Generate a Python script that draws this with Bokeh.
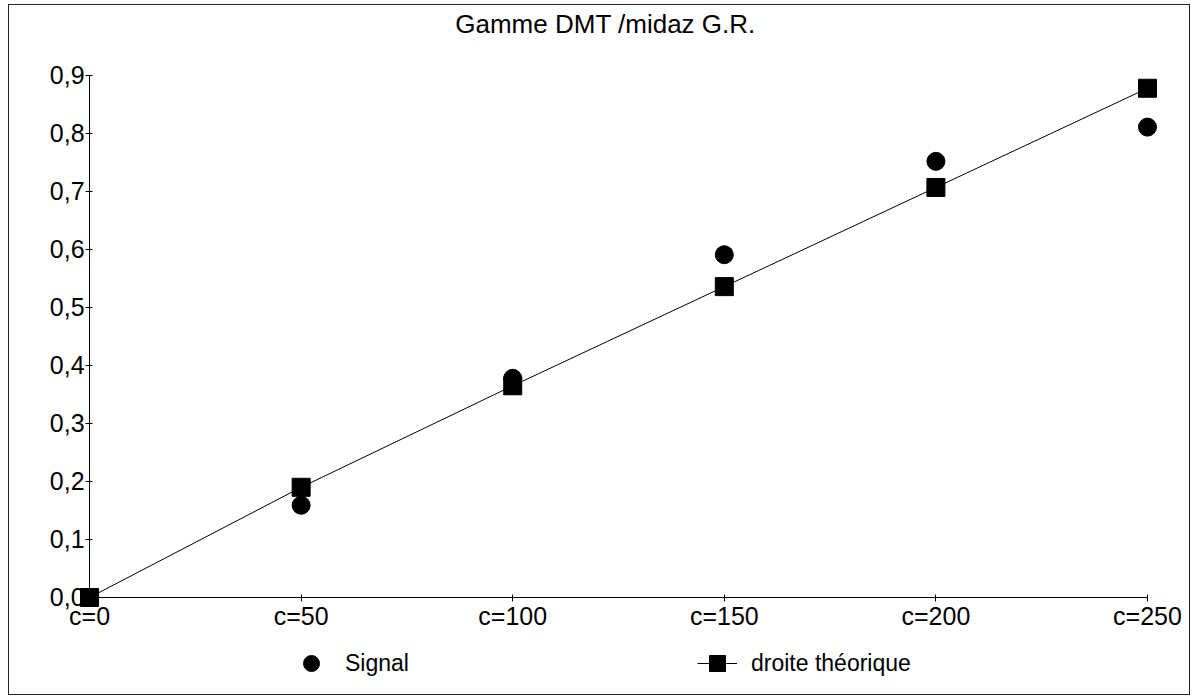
from bokeh.plotting import figure
from bokeh.models import FixedTicker, Legend, LegendItem, Range1d, CustomLabelingPolicy
from bokeh.core.properties import value
from bokeh.embed import file_html
from bokeh.resources import INLINE

# ---- data ----
categories = ["c=0", "c=50", "c=100", "c=150", "c=200", "c=250"]
concentrations = [0, 50, 100, 150, 200, 250]
signal = [0.0, 0.159, 0.378, 0.591, 0.752, 0.811]
droite = [0.0, 0.190, 0.365, 0.536, 0.707, 0.878]
y_ticks = [0.0, 0.1, 0.2, 0.3, 0.4, 0.5, 0.6, 0.7, 0.8, 0.9]
y_labels = ["0,0", "0,1", "0,2", "0,3", "0,4", "0,5", "0,6", "0,7", "0,8", "0,9"]
title_text = "Gamme DMT /midaz G.R."
legend_labels = ["Signal", "droite théorique"]

FONT = "Liberation Sans"
TICK_FS = "25px"
TITLE_FS = "26px"
LEG_FS = "23px"

# The frame covers almost the whole canvas so that the markers sitting on
# the axes are not clipped; the axes are pinned at 0 and bounded.
p = figure(width=1182, height=691, output_backend="svg", toolbar_location=None,
           x_range=Range1d(-14.19, 258.04), y_range=Range1d(-0.1569, 0.96379),
           min_border_left=20, min_border_right=10, min_border_top=33,
           min_border_bottom=8)
p.styles = {"border": "1px solid #222", "margin-left": "8px", "margin-top": "4px"}

p.title.text = title_text
p.title.align = "center"
p.title.text_font = FONT
p.title.text_font_size = TITLE_FS
p.title.text_font_style = "normal"
p.title.text_color = "black"
p.title.standoff = 0

p.xgrid.visible = False
p.ygrid.visible = False
p.outline_line_color = None

hide_labels = CustomLabelingPolicy(code="""
    for (const i of indices) { indices.unset(i) }
    return indices
""")

p.xaxis.ticker = FixedTicker(ticks=concentrations)
p.xaxis.fixed_location = 0
p.xaxis.bounds = (concentrations[0], concentrations[-1])
p.yaxis.ticker = FixedTicker(ticks=y_ticks)
p.yaxis.fixed_location = 0
p.yaxis.bounds = (y_ticks[0], y_ticks[-1])
for ax in (p.xaxis[0], p.yaxis[0]):
    ax.axis_line_color = "black"
    ax.axis_line_width = 1
    ax.major_tick_line_color = "black"
    ax.major_tick_in = 3
    ax.major_tick_out = 4
    ax.minor_tick_line_color = None
    ax.major_label_text_font_size = "0px"
    ax.major_label_standoff = 0
    ax.major_label_policy = hide_labels

# tick labels, placed through the data scales
p.text(x=concentrations, y=[0] * len(concentrations), text=categories,
       text_align="center", text_baseline="top", y_offset=5,
       text_font=value(FONT), text_font_size=value(TICK_FS), text_color="black")
p.text(x=[0] * len(y_ticks), y=y_ticks, text=y_labels,
       text_align="right", text_baseline="middle", x_offset=-5,
       text_font=value(FONT), text_font_size=value(TICK_FS), text_color="black")

line = p.line(concentrations, droite, line_color="black", line_width=1)
sq = p.scatter(concentrations, droite, marker="square", size=18, color="black")
ci = p.scatter(concentrations, signal, marker="circle", size=18, color="black")


def make_legend(label, renderers, loc):
    return Legend(items=[LegendItem(label=label, renderers=renderers)],
                  location=loc, orientation="horizontal",
                  border_line_color=None, background_fill_alpha=0,
                  padding=0, margin=0, spacing=0,
                  glyph_width=40, glyph_height=40, label_standoff=14,
                  label_text_font=FONT, label_text_font_size=LEG_FS,
                  label_text_color="black")


p.add_layout(make_legend(legend_labels[0], [ci], (262, 5)))
p.add_layout(make_legend(legend_labels[1], [line, sq], (668, 5)))

open("out.html", "w").write(file_html(p, INLINE))
